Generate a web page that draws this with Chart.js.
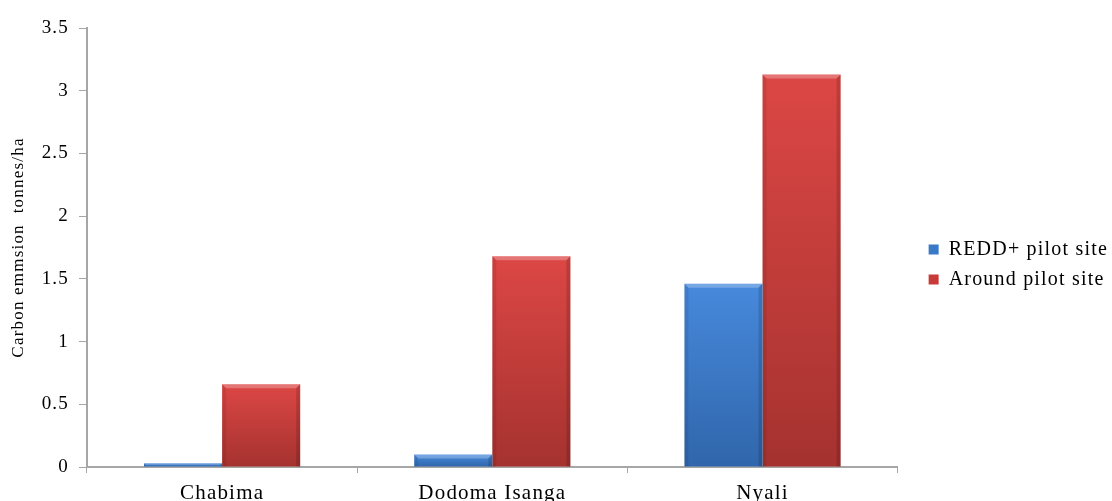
<!DOCTYPE html>
<html>
<head>
<meta charset="utf-8">
<script src="https://cdn.jsdelivr.net/npm/chart.js@4/dist/chart.umd.min.js"></script>
<style>
  html, body { margin: 0; padding: 0; background: #ffffff; }
  #wrap { width: 1112px; height: 501px; position: relative; }
</style>
</head>
<body>
<div id="wrap"><canvas id="chart"></canvas></div>
<script>
// Sites and carbon emission per hectare
const categories = ['Chabima', 'Dodoma Isanga', 'Nyali'];
const reddPilot = [0.03, 0.10, 1.46];
const aroundPilot = [0.66, 1.68, 3.13];
const yTicks = [0, 0.5, 1, 1.5, 2, 2.5, 3, 3.5];

const serif = '"Liberation Serif", "Times New Roman", serif';
const legendShift = 21;

// Each bar gets its own top-to-bottom shading
function barGradient(top, bottom) {
  return (c) => {
    const chart = c.chart;
    const ys = chart.scales && chart.scales.y;
    if (!ys || c.raw == null || !chart.chartArea) return top;
    const yTop = ys.getPixelForValue(c.raw);
    const yBase = ys.getPixelForValue(0);
    const g = chart.ctx.createLinearGradient(0, yTop, 0, yBase);
    g.addColorStop(0, top);
    g.addColorStop(1, bottom);
    return g;
  };
}

// Bevelled edges on each bar: light top rim, shaded sides
const bevel = {
  id: 'bevel',
  afterDatasetsDraw(chart) {
    const ctx = chart.ctx;
    chart.data.datasets.forEach((ds, di) => {
      const meta = chart.getDatasetMeta(di);
      meta.data.forEach((bar) => {
        const { x, y, base, width } = bar.getProps(['x', 'y', 'base', 'width'], true);
        const l = x - width / 2, r = x + width / 2;
        const h = base - y;
        const e = Math.min(4, h / 2);
        ctx.save();
        ctx.fillStyle = 'rgba(255,255,255,0.26)';
        ctx.beginPath();
        ctx.moveTo(l, y); ctx.lineTo(r, y); ctx.lineTo(r - e, y + e); ctx.lineTo(l + e, y + e);
        ctx.closePath(); ctx.fill();
        ctx.fillStyle = 'rgba(0,0,0,0.08)';
        ctx.beginPath();
        ctx.moveTo(l, y); ctx.lineTo(l + e, y + e); ctx.lineTo(l + e, base); ctx.lineTo(l, base);
        ctx.closePath(); ctx.fill();
        ctx.fillStyle = 'rgba(0,0,0,0.14)';
        ctx.beginPath();
        ctx.moveTo(r, y); ctx.lineTo(r - e, y + e); ctx.lineTo(r - e, base); ctx.lineTo(r, base);
        ctx.closePath(); ctx.fill();
        ctx.restore();
      });
    });
  }
};

// Slightly spaced lettering, and the legend set a little away from the plot
const typeset = {
  id: 'typeset',
  beforeLayout(chart) { chart.ctx.letterSpacing = '1.2px'; },
  afterLayout(chart) {
    const lg = chart.legend;
    if (lg) { lg.left += legendShift; lg.right += legendShift; }
  },
  beforeDraw(chart) { chart.ctx.letterSpacing = '1.2px'; }
};

new Chart(document.getElementById('chart'), {
  type: 'bar',
  data: {
    labels: categories,
    datasets: [
      {
        label: 'REDD+ pilot site',
        data: reddPilot,
        backgroundColor: barGradient('#4789dc', '#3066ab'),
        borderWidth: 0
      },
      {
        label: 'Around pilot site',
        data: aroundPilot,
        backgroundColor: barGradient('#dc4745', '#a5322f'),
        borderWidth: 0
      }
    ]
  },
  options: {
    responsive: true,
    maintainAspectRatio: false,
    animation: false,
    layout: { padding: { top: 28, right: 15, bottom: 0, left: 8 } },
    datasets: {
      bar: { categoryPercentage: 0.578, barPercentage: 1.0 }
    },
    plugins: {
      tooltip: { enabled: false },
      legend: {
        position: 'right',
        labels: {
          font: { family: serif, size: 20 },
          color: '#000000',
          boxWidth: 10,
          boxHeight: 10,
          padding: 10,
          generateLabels(chart) {
            const cols = ['#3a78c8', '#c83a38'];
            return chart.data.datasets.map((ds, i) => ({
              text: ds.label,
              fillStyle: cols[i],
              strokeStyle: cols[i],
              lineWidth: 0,
              datasetIndex: i,
              fontColor: '#000000'
            }));
          }
        }
      }
    },
    scales: {
      x: {
        afterFit(scale) { scale.height = 34; },
        grid: {
          display: true,
          offset: true,
          drawOnChartArea: false,
          drawTicks: true,
          tickLength: 6,
          color: '#a6a6a6'
        },
        border: { color: '#a6a6a6', width: 2 },
        ticks: {
          color: '#000000',
          font: { family: serif, size: 21 },
          padding: 8,
          maxRotation: 0
        }
      },
      y: {
        min: 0,
        max: 3.5,
        afterFit(scale) { scale.width = 79; },
        afterBuildTicks(scale) { scale.ticks = yTicks.map(v => ({ value: v })); },
        grid: {
          display: true,
          drawOnChartArea: false,
          drawTicks: true,
          tickLength: 8,
          color: '#a6a6a6'
        },
        border: { color: '#a6a6a6', width: 2 },
        ticks: {
          color: '#000000',
          font: { family: serif, size: 19 },
          padding: 10,
          callback: (v) => String(v)
        },
        title: {
          display: true,
          text: 'Carbon emmsion  tonnes/ha',
          color: '#000000',
          font: { family: serif, size: 17 },
          padding: { top: 0, bottom: 10 }
        }
      }
    }
  },
  plugins: [typeset, bevel]
});
</script>
</body>
</html>
